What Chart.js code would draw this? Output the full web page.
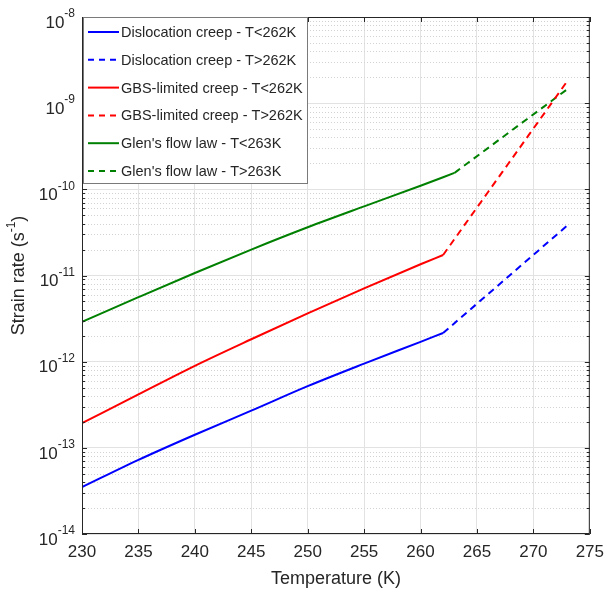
<!DOCTYPE html>
<html>
<head>
<meta charset="utf-8">
<script src="https://cdn.jsdelivr.net/npm/chart.js@4"></script>
<style>
  body { margin: 0; background: #fff; }
  #wrap { width: 612px; height: 595px; }
</style>
</head>
<body>
<div id="wrap"><canvas id="strain_chart" width="612" height="595"></canvas></div>
<script>
// temperatures (K)
const tempCold = [230, 235, 240, 245, 250, 255, 260, 262];
const tempGlenCold = [230, 235, 240, 245, 250, 255, 260, 263];
const tempWarm = [262, 273];
const tempGlenWarm = [263, 273];

// strain rates (1/s)
const dislocCold = [3.5e-14, 7.25e-14, 1.42e-13, 2.7e-13, 5.2e-13, 9.5e-13, 1.7e-12, 2.15e-12];
const dislocWarm = [2.15e-12, 3.8e-11];
const gbsCold = [1.93e-13, 4.17e-13, 8.95e-13, 1.82e-12, 3.63e-12, 7.1e-12, 1.35e-11, 1.73e-11];
const gbsWarm = [1.73e-11, 1.8e-9];
const glenCold = [2.9e-12, 5.6e-12, 1.07e-11, 2.0e-11, 3.63e-11, 6.35e-11, 1.1e-10, 1.55e-10];
const glenWarm = [1.55e-10, 1.45e-9];

const seriesLabels = [
  "Dislocation creep - T<262K",
  "Dislocation creep - T>262K",
  "GBS-limited creep - T<262K",
  "GBS-limited creep - T>262K",
  "Glen's flow law - T<263K",
  "Glen's flow law - T>263K",
];

const yExponents = [-14, -13, -12, -11, -10, -9, -8];

const textColor = "#262626";
const fontName = "'Liberation Sans', Arial, sans-serif";
const dashPattern = [7, 5];

function pts(xs, ys) {
  return xs.map((x, i) => ({ x: x, y: ys[i] }));
}

function isDecade(v) {
  const e = Math.log10(v);
  return Math.abs(e - Math.round(e)) < 1e-6;
}

// log ticks: 1..9 x 10^n
function buildLogTicks(scale) {
  const ticks = [];
  for (let e = yExponents[0]; e < yExponents[yExponents.length - 1]; e++) {
    for (let m = 1; m <= 9; m++) ticks.push({ value: m * Math.pow(10, e) });
  }
  ticks.push({ value: Math.pow(10, yExponents[yExponents.length - 1]) });
  scale.ticks = ticks;
}

// minor grid, box, inner ticks, y labels, y title, legend
const axesExtras = {
  id: "axesExtras",
  beforeDatasetsDraw(chart) {
    const ctx = chart.ctx;
    const a = chart.chartArea;
    const ys = chart.scales.y;
    ctx.save();
    ctx.strokeStyle = "#d2d2d2";
    ctx.lineWidth = 1;
    ctx.setLineDash([1, 2]);
    ys.ticks.forEach((t) => {
      if (isDecade(t.value)) return;
      const y = Math.round(ys.getPixelForValue(t.value)) + 0.5;
      ctx.beginPath();
      ctx.moveTo(a.left, y);
      ctx.lineTo(a.right, y);
      ctx.stroke();
    });
    ctx.restore();
  },
  afterDraw(chart) {
    const ctx = chart.ctx;
    const a = chart.chartArea;
    const xs = chart.scales.x;
    const ys = chart.scales.y;
    ctx.save();
    ctx.strokeStyle = textColor;
    ctx.lineWidth = 1;
    ctx.setLineDash([]);
    ctx.strokeRect(a.left + 0.5, a.top + 0.5, a.right - a.left - 1, a.bottom - a.top - 1);

    ctx.beginPath();
    xs.ticks.forEach((t) => {
      const x = Math.round(xs.getPixelForValue(t.value)) + 0.5;
      ctx.moveTo(x, a.bottom);
      ctx.lineTo(x, a.bottom - 5);
      ctx.moveTo(x, a.top);
      ctx.lineTo(x, a.top + 5);
    });
    ys.ticks.forEach((t) => {
      const y = Math.round(ys.getPixelForValue(t.value)) + 0.5;
      const len = isDecade(t.value) ? 5 : 3;
      ctx.moveTo(a.left, y);
      ctx.lineTo(a.left + len, y);
      ctx.moveTo(a.right, y);
      ctx.lineTo(a.right - len, y);
    });
    ctx.stroke();

    // y tick labels 10^n
    ctx.fillStyle = textColor;
    ctx.textBaseline = "middle";
    yExponents.forEach((e) => {
      const y = ys.getPixelForValue(Math.pow(10, e));
      const expTxt = "-" + Math.abs(e);
      ctx.font = "12px " + fontName;
      const ew = ctx.measureText(expTxt).width;
      const right = a.left - 7;
      ctx.textAlign = "left";
      ctx.fillText(expTxt, right - ew, y - 3);
      ctx.font = "17px " + fontName;
      ctx.textAlign = "right";
      ctx.fillText("10", right - ew, y + 6);
    });

    // y title with superscript
    ctx.translate(19, (a.top + a.bottom) / 2);
    ctx.rotate(-Math.PI / 2);
    ctx.font = "18px " + fontName;
    const p1 = "Strain rate (s";
    const p3 = ")";
    const w1 = ctx.measureText(p1).width;
    const w3 = ctx.measureText(p3).width;
    ctx.font = "12px " + fontName;
    const w2 = ctx.measureText("-1").width;
    let x = -(w1 + w2 + w3) / 2;
    ctx.textAlign = "left";
    ctx.font = "18px " + fontName;
    ctx.fillText(p1, x, 0);
    ctx.font = "12px " + fontName;
    ctx.fillText("-1", x + w1, -7);
    ctx.font = "18px " + fontName;
    ctx.fillText(p3, x + w1 + w2, 0);
    ctx.restore();

    // legend inside the axes
    const lx = a.left + 1, ly = a.top;
    ctx.save();
    ctx.fillStyle = "#fff";
    ctx.fillRect(lx, ly, 224, 166);
    ctx.strokeStyle = "#7a7a7a";
    ctx.lineWidth = 1;
    ctx.strokeRect(lx + 0.5, ly + 0.5, 224, 166);
    ctx.font = "14.5px " + fontName;
    ctx.textBaseline = "middle";
    ctx.textAlign = "left";
    chart.data.datasets.forEach((ds, i) => {
      const y = ly + 15 + i * 27.8;
      ctx.strokeStyle = ds.borderColor;
      ctx.lineWidth = 2;
      ctx.setLineDash(ds.borderDash && ds.borderDash.length ? [6, 5] : []);
      ctx.beginPath();
      ctx.moveTo(lx + 5, y);
      ctx.lineTo(lx + 36, y);
      ctx.stroke();
      ctx.fillStyle = textColor;
      ctx.fillText(ds.label, lx + 38, y + 1);
    });
    ctx.restore();
  },
};

function makeChart() {
  const ctx = document.getElementById("strain_chart");
  const colors = ["#0000ff", "#0000ff", "#ff0000", "#ff0000", "#008000", "#008000"];
  const sets = [
    pts(tempCold, dislocCold),
    pts(tempWarm, dislocWarm),
    pts(tempCold, gbsCold),
    pts(tempWarm, gbsWarm),
    pts(tempGlenCold, glenCold),
    pts(tempGlenWarm, glenWarm),
  ];

  const chart = new Chart(ctx, {
    type: "line",
    data: {
      datasets: sets.map((d, i) => ({
        label: seriesLabels[i],
        data: d,
        borderColor: colors[i],
        borderWidth: 2,
        borderDash: i % 2 === 1 ? dashPattern : [],
        pointRadius: 0,
        fill: false,
        cubicInterpolationMode: "monotone",
      })),
    },
    options: {
      responsive: false,
      animation: false,
      layout: { padding: { top: 17, right: 17, left: 0, bottom: 0 } },
      plugins: { legend: { display: false }, tooltip: { enabled: false } },
      scales: {
        x: {
          type: "linear",
          min: 230,
          max: 275,
          ticks: { stepSize: 5, color: textColor, font: { family: fontName, size: 17 }, padding: 8 },
          grid: { color: "#e2e2e2", drawTicks: false },
          border: { display: false },
          title: {
            display: true,
            text: "Temperature (K)",
            color: textColor,
            font: { family: fontName, size: 18 },
            padding: { top: 0, bottom: 5 },
          },
          afterFit: (scale) => { scale.height = 61; },
        },
        y: {
          type: "logarithmic",
          min: 1e-14,
          max: 1e-8,
          afterBuildTicks: buildLogTicks,
          ticks: { display: false },
          grid: {
            drawTicks: false,
            color: (c) => (c.tick && isDecade(c.tick.value) ? "#e2e2e2" : "rgba(0,0,0,0)"),
          },
          border: { display: false },
          afterFit: (scale) => { scale.width = 82; },
        },
      },
    },
    plugins: [axesExtras],
  });
  return chart;
}

makeChart();
</script>
</body>
</html>
